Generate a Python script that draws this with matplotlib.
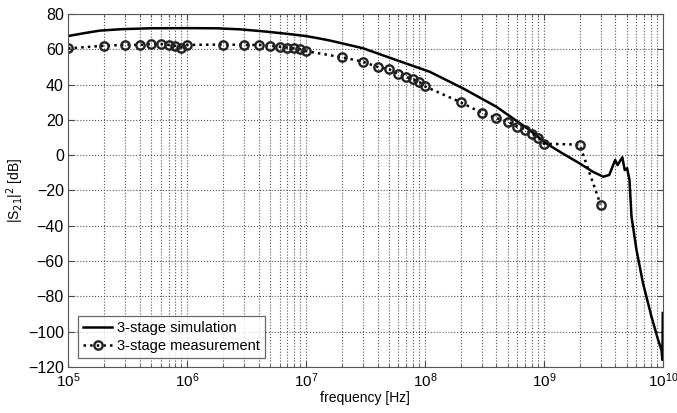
import numpy as np
import matplotlib
matplotlib.use("Agg")
import matplotlib.pyplot as plt
from matplotlib.ticker import LogLocator, NullFormatter, FixedLocator

plt.rcParams['font.family'] = ['Liberation Sans', 'DejaVu Sans']

# Simulation curve (log10 frequency, dB)
sim_logf = [5.0, 5.15, 5.27, 5.45, 5.69, 6.0, 6.25, 6.45, 6.67, 6.85, 7.0, 7.1,
            7.20, 7.48, 7.76, 8.04, 8.32, 8.60, 8.74, 8.88, 9.02, 9.16, 9.30,
            9.41, 9.50, 9.55, 9.60, 9.62, 9.66, 9.68, 9.70, 9.72, 9.737,
            9.779, 9.834, 9.905, 9.961, 9.989, 9.997, 10.0]
sim_db = [67.5, 69.3, 70.6, 71.4, 71.9, 72.0, 71.9, 71.3, 70.0, 68.7, 67.5, 66.3,
          65.0, 60.6, 53.9, 47.3, 37.9, 27.5, 20.9, 14.3, 6.7, 0.9, -4.6,
          -9.3, -12.2, -11.2, -2.7, -5.6, -1.2, -8.4, -7.4, -14.0, -34.8,
          -53.7, -72.6, -91.5, -104.7, -110.4, -116.0, -89.4]

# Measurement points
meas_f = [1e5, 2e5, 3e5, 4e5, 5e5, 6e5, 7e5, 8e5, 9e5, 1e6,
          2e6, 3e6, 4e6, 5e6, 6e6, 7e6, 8e6, 9e6, 1e7,
          2e7, 3e7, 4e7, 5e7, 6e7, 7e7, 8e7, 9e7, 1e8,
          2e8, 3e8, 4e8, 5e8, 6e8, 7e8, 8e8, 9e8, 1e9,
          2e9, 3e9]
meas_db = [60.5, 62.0, 62.5, 62.5, 63.0, 63.0, 62.5, 62.0, 61.0, 62.5,
           62.7, 62.5, 62.5, 62.0, 61.5, 61.0, 60.5, 60.0, 59.0,
           55.5, 53.0, 50.0, 48.7, 46.0, 44.3, 43.0, 41.5, 39.0,
           30.0, 24.0, 21.0, 19.0, 16.0, 14.5, 12.0, 10.0, 6.5,
           6.0, -28.0]

yticks = [-120, -100, -80, -60, -40, -20, 0, 20, 40, 60, 80]

fig = plt.figure(figsize=(6.77, 4.13), dpi=100)
ax = fig.add_axes([0.1004, 0.1114, 0.8786, 0.8547])

ax.semilogx(10 ** np.array(sim_logf), sim_db, color='black', lw=1.8,
            label='3-stage simulation')
ax.semilogx(meas_f, meas_db, color='black', lw=1.8, ls=':', marker='o',
            markersize=6, markerfacecolor='none', markeredgewidth=1.7,
            markeredgecolor='#222222', label='3-stage measurement')

ax.set_xlim(1e5, 1e10)
ax.set_ylim(-120, 80)
ax.yaxis.set_major_locator(FixedLocator(yticks))
ax.xaxis.set_major_locator(LogLocator(base=10, numticks=20))
ax.xaxis.set_minor_locator(LogLocator(base=10, subs=np.arange(2, 10), numticks=100))
ax.xaxis.set_minor_formatter(NullFormatter())

ax.grid(True, which='major', ls=':', color='#555555', lw=0.8)
ax.grid(True, which='minor', axis='x', ls=':', color='#555555', lw=0.8)
ax.tick_params(which='both', direction='in', top=True, right=True,
               labelsize=11.5, length=4, color='#444444', pad=3)
ax.tick_params(axis='x', labelsize=11)
ax.tick_params(which='minor', length=2.5)
for s in ax.spines.values():
    s.set_color('#555555')
    s.set_linewidth(0.8)

ax.set_xlabel('frequency [Hz]', fontsize=10, labelpad=1)
ax.set_ylabel('|S$_{21}$|$^2$ [dB]', fontsize=10, labelpad=1)

leg = ax.legend(loc='lower left', fontsize=10.5, frameon=True, fancybox=False,
                edgecolor='#444444', borderpad=0.35, handlelength=2.0,
                labelspacing=0.3, handletextpad=0.3, borderaxespad=0,
                bbox_to_anchor=(0.017, 0.025))
leg.get_frame().set_linewidth(0.9)

fig.savefig('out.png', dpi=100)
